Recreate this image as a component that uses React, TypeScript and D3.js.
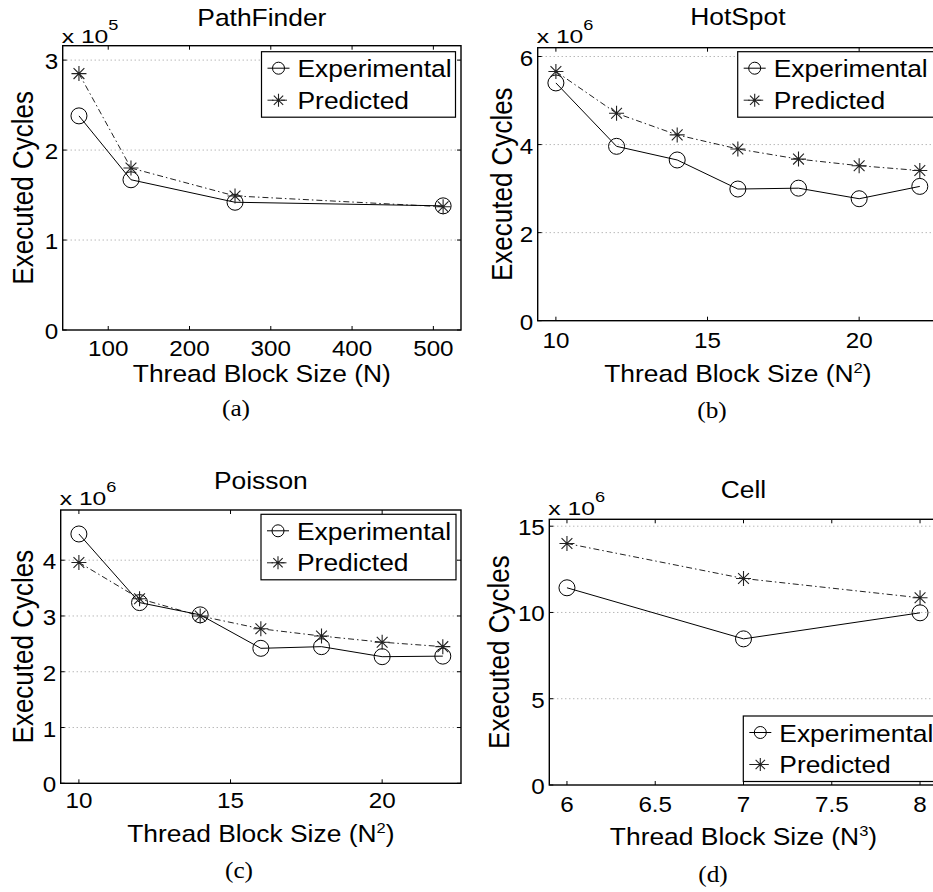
import React from 'react';
import * as d3 from 'd3';

const W = 933;
const H = 892;
const SANS = '"Liberation Sans", Arial, Helvetica, sans-serif';
const SERIF = '"Liberation Serif", "Times New Roman", Times, serif';
const SX = 1.1; // the reference text is slightly wide

// (a) PathFinder, cycles x 10^5
const pathFinderSizes = [64, 128, 256, 512];
const pathFinderExp = [2.38, 1.67, 1.42, 1.38];
const pathFinderPred = [2.85, 1.8, 1.49, 1.37];

// (b) HotSpot, cycles x 10^6
const hotSpotSizes = [10, 12, 14, 16, 18, 20, 22];
const hotSpotExp = [5.4, 3.96, 3.65, 2.99, 3.01, 2.77, 3.05];
const hotSpotPred = [5.66, 4.71, 4.22, 3.9, 3.67, 3.52, 3.41];

// (c) Poisson, cycles x 10^6
const poissonSizes = [10, 12, 14, 16, 18, 20, 22];
const poissonExp = [4.47, 3.24, 3.02, 2.42, 2.45, 2.27, 2.28];
const poissonPred = [3.96, 3.31, 3.0, 2.77, 2.64, 2.53, 2.45];

// (d) Cell, cycles x 10^6
const cellSizes = [6, 7, 8];
const cellExp = [11.43, 8.47, 9.98];
const cellPred = [14.0, 11.97, 10.85];

const seriesNames = ['Experimental', 'Predicted'];

type PanelDef = {
  key: string;
  title: string;
  caption: string;
  exponent: string;
  power: string; // superscript in x label, '' for none
  xs: number[];
  exp: number[];
  pred: number[];
  xDomain: [number, number];
  yDomain: [number, number];
  xTicks: number[];
  yTicks: number[];
  // layout
  left: number; right: number; top: number; bottom: number;
  titleY: number; expY: number; tickY: number; labelY: number;
  yLabelX: number; captionX: number; captionY: number;
  legX: number; legY: number; legW: number;
};

const panels: PanelDef[] = [
  {
    key: 'a', title: 'PathFinder', caption: '(a)', exponent: '5', power: '',
    xs: pathFinderSizes, exp: pathFinderExp, pred: pathFinderPred,
    xDomain: [44, 534], yDomain: [0, 3.16],
    xTicks: [100, 200, 300, 400, 500], yTicks: [0, 1, 2, 3],
    left: 62.7, right: 461, top: 45.7, bottom: 330,
    titleY: 26, expY: 42.7, tickY: 355.5, labelY: 382,
    yLabelX: 33, captionX: 236, captionY: 416,
    legX: 261.5, legY: 51.7, legW: 194,
  },
  {
    key: 'b', title: 'HotSpot', caption: '(b)', exponent: '6', power: '2',
    xs: hotSpotSizes, exp: hotSpotExp, pred: hotSpotPred,
    xDomain: [9.4, 22.6], yDomain: [0, 6.2],
    xTicks: [10, 15, 20], yTicks: [0, 2, 4, 6],
    left: 537.7, right: 938, top: 47.7, bottom: 320.7,
    titleY: 25, expY: 42.7, tickY: 348.3, labelY: 381.7,
    yLabelX: 511.7, captionX: 712, captionY: 418,
    legX: 737.7, legY: 51.7, legW: 210,
  },
  {
    key: 'c', title: 'Poisson', caption: '(c)', exponent: '6', power: '2',
    xs: poissonSizes, exp: poissonExp, pred: poissonPred,
    xDomain: [9.4, 22.6], yDomain: [0, 4.9],
    xTicks: [10, 15, 20], yTicks: [0, 1, 2, 3, 4],
    left: 60.7, right: 461, top: 510, bottom: 783.3,
    titleY: 489, expY: 505, tickY: 808.3, labelY: 841.7,
    yLabelX: 33, captionX: 239, captionY: 878,
    legX: 261, legY: 514.3, legW: 195,
  },
  {
    key: 'd', title: 'Cell', caption: '(d)', exponent: '6', power: '3',
    xs: cellSizes, exp: cellExp, pred: cellPred,
    xDomain: [5.9, 8.1], yDomain: [0, 15.4],
    xTicks: [6, 6.5, 7, 7.5, 8], yTicks: [0, 5, 10, 15],
    left: 549.3, right: 937.7, top: 519.3, bottom: 785,
    titleY: 498.3, expY: 515, tickY: 811.7, labelY: 845,
    yLabelX: 509.3, captionX: 713, captionY: 882,
    legX: 743.3, legY: 716, legW: 210,
  },
];

// text drawn at (x, y), stretched horizontally by sx
const T = ({ x, y, size, anchor = 'start', sx = SX, family, children }: any) => (
  <text
    transform={`translate(${x},${y}) scale(${sx},1)`}
    textAnchor={anchor}
    fontSize={size}
    fontFamily={family}
  >
    {children}
  </text>
);

const Circle = ({ cx, cy, r }: { cx: number; cy: number; r: number }) => (
  <circle cx={cx} cy={cy} r={r} fill="none" stroke="#000" strokeWidth={1} />
);

const Star = ({ cx, cy, s }: { cx: number; cy: number; s: number }) => {
  const d = s * 0.72;
  return (
    <path
      d={`M${cx - s},${cy}H${cx + s}M${cx},${cy - s}V${cy + s}` +
        `M${cx - d},${cy - d}L${cx + d},${cy + d}M${cx - d},${cy + d}L${cx + d},${cy - d}`}
      stroke="#222"
      strokeWidth={1.1}
      fill="none"
    />
  );
};

const DASHDOT = '6,3,1.5,3';

function Panel({ p }: { p: PanelDef }) {
  const x = d3.scaleLinear().domain(p.xDomain).range([p.left, p.right]);
  const y = d3.scaleLinear().domain(p.yDomain).range([p.bottom, p.top]);
  const line = d3
    .line<number>()
    .x((_, i) => x(p.xs[i]))
    .y((d) => y(d));
  const cx = (p.left + p.right) / 2;
  const cy = (p.top + p.bottom) / 2;
  const tick = 4;

  return (
    <g>
      {/* horizontal dotted grid */}
      {p.yTicks.filter((t) => t !== 0).map((t) => (
        <line key={'g' + t} x1={p.left} x2={p.right} y1={y(t)} y2={y(t)}
          stroke="#999" strokeWidth={1} strokeDasharray="1,3" />
      ))}

      <path d={line(p.pred) || ''} fill="none" stroke="#222" strokeWidth={1} strokeDasharray={DASHDOT} />
      <path d={line(p.exp) || ''} fill="none" stroke="#000" strokeWidth={1} />
      {p.exp.map((v, i) => <Circle key={'c' + i} cx={x(p.xs[i])} cy={y(v)} r={8} />)}
      {p.pred.map((v, i) => <Star key={'s' + i} cx={x(p.xs[i])} cy={y(v)} s={7.5} />)}

      {/* axes box */}
      <rect x={p.left} y={p.top} width={p.right - p.left} height={p.bottom - p.top}
        fill="none" stroke="#000" strokeWidth={1.4} />
      {p.xTicks.map((t) => (
        <g key={'xt' + t}>
          <line x1={x(t)} x2={x(t)} y1={p.bottom} y2={p.bottom - tick} stroke="#000" />
          <line x1={x(t)} x2={x(t)} y1={p.top} y2={p.top + tick} stroke="#000" />
          <T x={x(t)} y={p.tickY} size={22} anchor="middle">{String(t)}</T>
        </g>
      ))}
      {p.yTicks.map((t) => (
        <g key={'yt' + t}>
          <line x1={p.left} x2={p.left + tick} y1={y(t)} y2={y(t)} stroke="#000" />
          <line x1={p.right} x2={p.right - tick} y1={y(t)} y2={y(t)} stroke="#000" />
          <T x={p.left - 4.5} y={y(t) + 9} size={22} anchor="end">{String(t)}</T>
        </g>
      ))}

      {/* legend */}
      <g>
        <rect x={p.legX} y={p.legY} width={p.legW} height={65.5} fill="#fff" stroke="#000" strokeWidth={1.2} />
        <line x1={p.legX + 6} x2={p.legX + 28} y1={p.legY + 16.5} y2={p.legY + 16.5} stroke="#000" />
        <Circle cx={p.legX + 17} cy={p.legY + 16.5} r={6} />
        <T x={p.legX + 36} y={p.legY + 25.5} size={24}>{seriesNames[0]}</T>
        <line x1={p.legX + 6} x2={p.legX + 28} y1={p.legY + 48.5} y2={p.legY + 48.5}
          stroke="#222" strokeDasharray={DASHDOT} />
        <Star cx={p.legX + 17} cy={p.legY + 48.5} s={6.5} />
        <T x={p.legX + 36} y={p.legY + 57} size={24}>{seriesNames[1]}</T>
      </g>

      {/* titles and labels */}
      <T x={cx} y={p.titleY} size={24} anchor="middle">{p.title}</T>
      <T x={p.left - 1} y={p.expY} size={19} sx={1.3}>
        x 10<tspan dy={-13} fontSize={14}>{p.exponent}</tspan>
      </T>
      <T x={cx} y={p.labelY} size={24} anchor="middle">
        {p.power ? (
          <>
            Thread Block Size (N<tspan dy={-9} fontSize={15}>{p.power}</tspan>
            <tspan dy={9}>)</tspan>
          </>
        ) : 'Thread Block Size (N)'}
      </T>
      <text
        transform={`translate(${p.yLabelX},${cy}) rotate(-90) scale(1,${SX})`}
        textAnchor="middle"
        fontSize={26}
      >
        Executed Cycles
      </text>
      <T x={p.captionX} y={p.captionY} size={23} anchor="middle" family={SERIF}>{p.caption}</T>
    </g>
  );
}

export default function App() {
  return (
    <svg
      width={W}
      height={H}
      viewBox={`0 0 ${W} ${H}`}
      style={{ position: 'absolute', left: 0, top: 0, background: '#fff' }}
      fontFamily={SANS}
      fill="#000"
    >
      <rect width={W} height={H} fill="#fff" />
      {panels.map((p) => <Panel key={p.key} p={p} />)}
    </svg>
  );
}
